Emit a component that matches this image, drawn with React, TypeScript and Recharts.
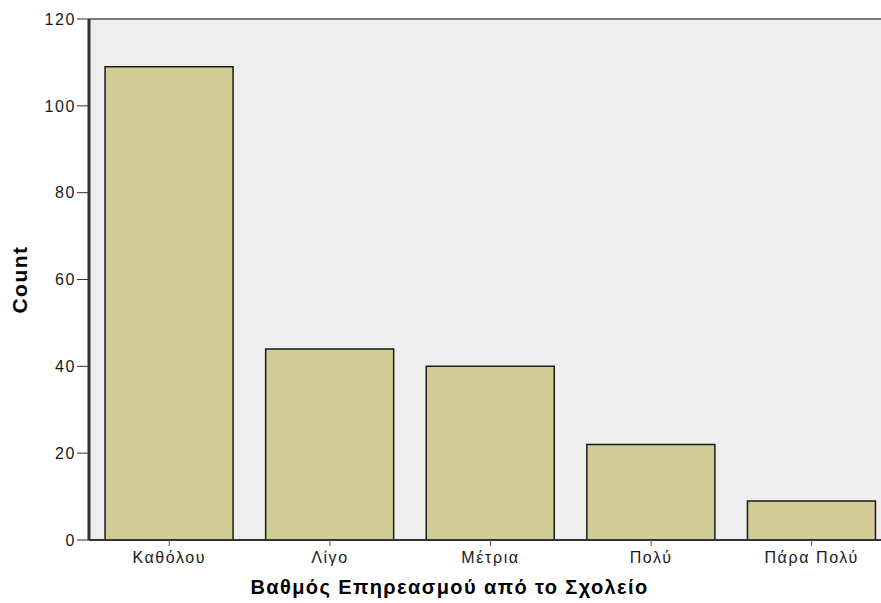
import React from "react";
import { BarChart, Bar, XAxis, YAxis, CartesianGrid, ReferenceLine } from "recharts";

// Βαθμός Επηρεασμού από το Σχολείο — counts per answer
const categories = ["Καθόλου", "Λίγο", "Μέτρια", "Πολύ", "Πάρα Πολύ"];
const counts = [109, 44, 40, 22, 9];
const yTicks = [0, 20, 40, 60, 80, 100, 120];

const data = categories.map((name, i) => ({ name, count: counts[i] }));

const FONT = "'Liberation Sans', Arial, sans-serif";
const AXIS = "#333333";
const TICK = { fill: "#1a1a1a", fontSize: 16, fontFamily: FONT, letterSpacing: 1.6 };

export default function App() {
  return (
    <div style={{ position: "absolute", left: 0, top: 0, width: 881, height: 603, overflow: "hidden", background: "#fff" }}>
      <BarChart
        width={893}
        height={603}
        data={data}
        margin={{ top: 19, right: 1, bottom: 9, left: 0 }}
        barCategoryGap="10%"
      >
        <CartesianGrid horizontal={false} vertical={false} fill="#eeeeee" />
        <ReferenceLine y={120} stroke="#7a7a7a" strokeWidth={2} />
        <XAxis
          dataKey="name"
          height={54}
          tick={TICK}
          tickSize={6}
          tickMargin={6}
          tickLine={{ stroke: "#555" }}
          axisLine={{ stroke: AXIS, strokeWidth: 2 }}
          label={{
            value: "Βαθμός Επηρεασμού από το Σχολείο",
            position: "insideBottom",
            offset: 0,
            dx: -41,
            style: { fontFamily: FONT, fontSize: 20, fontWeight: "bold", fill: "#000", letterSpacing: 1.4 },
          }}
        />
        <YAxis
          width={89}
          domain={[0, 120]}
          ticks={yTicks}
          interval={0}
          tick={TICK}
          tickSize={12}
          tickMargin={1}
          tickLine={{ stroke: AXIS }}
          axisLine={{ stroke: AXIS, strokeWidth: 3 }}
          label={{
            value: "Count",
            angle: -90,
            position: "insideLeft",
            offset: 20,
            style: { fontFamily: FONT, fontSize: 21, fontWeight: "bold", fill: "#000", textAnchor: "middle", letterSpacing: 1.5 },
          }}
        />
        <Bar dataKey="count" fill="#d2cd96" stroke="#1a1a1a" strokeWidth={1.5} isAnimationActive={false} />
      </BarChart>
    </div>
  );
}
